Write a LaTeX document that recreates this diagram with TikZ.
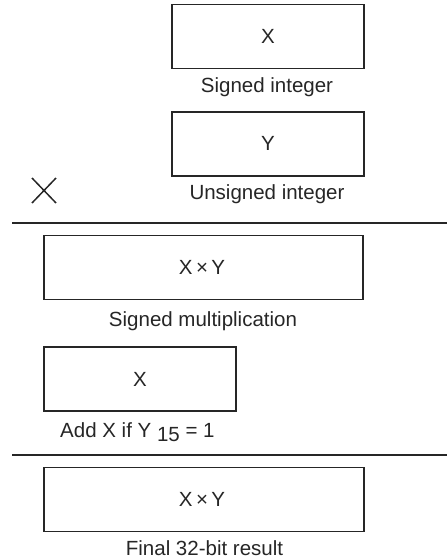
\documentclass[tikz,border=0pt]{standalone}
\usepackage{fontspec}
\setmainfont{Liberation Sans}
\begin{document}
\begin{tikzpicture}[x=1pt,y=-1pt,
  reg/.style={draw=black!85,line width=1.1pt,minimum height=64pt,inner sep=0pt},
  txt/.style={inner sep=0pt,anchor=base,text=black!85,font=\fontsize{20.5}{24}\selectfont},
  rule/.style={line width=1.4pt,draw=black!85}]
\useasboundingbox (0,0) rectangle (447,560);
% boxes
\node[reg,minimum width=192pt] (bx) at (268,36.5) {};
\node[reg,minimum width=192pt] (by) at (268,144) {};
\node[reg,minimum width=319pt] (bxy) at (203.5,267.5) {};
\node[reg,minimum width=192pt] (bx2) at (140,379) {};
\node[reg,minimum width=320pt] (bxy2) at (204,499.5) {};
% box texts
\node[txt] (tx) at (268,43) {X};
\node[txt] (ty) at (268,150) {Y};
\node[txt] (txy) at (202,274) {X\,×\,Y};
\node[txt] (tx2) at (140,386) {X};
\node[txt] (txy2) at (202,506) {X\,×\,Y};
% labels
\node[txt] (l1) at (267,92) {Signed integer};
\node[txt] (l2) at (267,199) {Unsigned integer};
\node[txt] (l3) at (203,326) {Signed multiplication};
\node[txt,anchor=base west] (l4) at (60,437) {Add X if Y {\raisebox{-4.5pt}{15}} = 1};
\node[txt] (l5) at (204.5,555) {Final 32-bit result};
% times sign
\coordinate (m1) at (32,178);
\coordinate (m2) at (56,203);
\coordinate (m3) at (32,203);
\coordinate (m4) at (56,178);
\draw[line width=1.5pt,black!85] (m1) -- (m2) (m3) -- (m4);
% rules
\coordinate (r1a) at (12,223);
\coordinate (r1b) at (447,223);
\coordinate (r2a) at (12,455);
\coordinate (r2b) at (447,455);
\draw[rule] (r1a) -- (r1b);
\draw[rule] (r2a) -- (r2b);
\end{tikzpicture}
\end{document}
